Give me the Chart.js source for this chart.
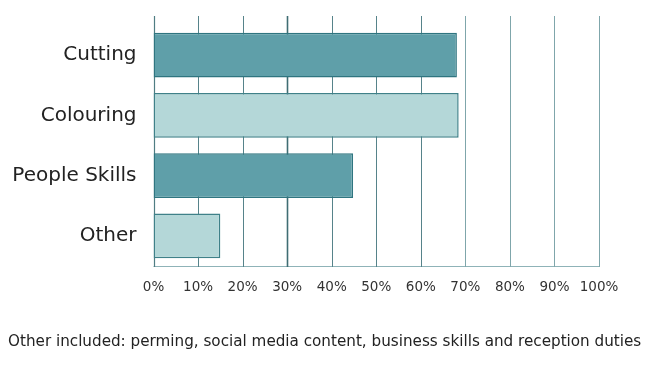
<!DOCTYPE html>
<html>
<head>
<meta charset="utf-8">
<script src="https://cdn.jsdelivr.net/npm/chart.js@4/dist/chart.umd.min.js"></script>
<style>
  html, body { margin: 0; padding: 0; background: #ffffff; }
  #wrap { position: relative; width: 650px; height: 376px; }
  #note { position: absolute; left: 8px; top: 332px; white-space: nowrap;
          font-family: 'DejaVu Sans', sans-serif; font-size: 15.2px; color: #222222; }
</style>
</head>
<body>
<div id="wrap"><canvas id="c" width="650" height="376"></canvas><div id="note"></div></div>
<script>
const categories = ['Cutting', 'Colouring', 'People Skills', 'Other'];
const shareValues = [68.1, 68.5, 44.8, 15.0];
const tickValues = [0, 10, 20, 30, 40, 50, 60, 70, 80, 90, 100];
const footnote = 'Other included: perming, social media content, business skills and reception duties';

document.getElementById('note').textContent = footnote;

const fillColours = ['#5f9fa9', '#b4d7d8', '#5f9fa9', '#b4d7d8'];
const borderColours = ['#2f7580', '#3f8189', '#2f7580', '#3f8189'];
const FONT = "'DejaVu Sans', sans-serif";

const gridPlugin = {
  id: 'gridExt',
  beforeDatasetsDraw(chart) {
    const ctx = chart.ctx;
    const x = chart.scales.x;
    const area = chart.chartArea;
    const top = area.top - 9;
    ctx.save();
    ctx.strokeStyle = '#8fb3b8';
    ctx.lineWidth = 1;
    ctx.beginPath();
    ctx.moveTo(x.getPixelForValue(0), area.bottom + 0.5);
    ctx.lineTo(x.getPixelForValue(100), area.bottom + 0.5);
    ctx.stroke();
    tickValues.forEach(v => {
      const px = Math.round(x.getPixelForValue(v)) + 0.5;
      if (v === 30) { ctx.strokeStyle = '#3f6d73'; ctx.lineWidth = 1.6; }
      else if (v === 0) { ctx.strokeStyle = '#4f7d83'; ctx.lineWidth = 1.2; }
      else if (v >= 70) { ctx.strokeStyle = '#7fa6ab'; ctx.lineWidth = 1; }
      else { ctx.strokeStyle = '#56838a'; ctx.lineWidth = 1; }
      ctx.beginPath();
      ctx.moveTo(px, top);
      ctx.lineTo(px, area.bottom + 1);
      ctx.stroke();
    });
    ctx.restore();
  }
};

new Chart(document.getElementById('c'), {
  type: 'bar',
  data: {
    labels: categories,
    datasets: [{
      data: shareValues,
      backgroundColor: fillColours,
      borderColor: borderColours,
      borderWidth: 1.5,
      borderSkipped: false,
      barPercentage: 0.74,
      categoryPercentage: 1.0
    }]
  },
  options: {
    indexAxis: 'y',
    responsive: false,
    animation: false,
    layout: { padding: { top: 25, right: 51, left: 0, bottom: 80 } },
    plugins: {
      legend: { display: false },
      tooltip: { enabled: false },
      title: { display: false }
    },
    scales: {
      x: {
        type: 'linear',
        min: 0,
        max: 100,
        afterBuildTicks(scale) { scale.ticks = tickValues.map(v => ({ value: v })); },
        afterFit(scale) { scale.height = 30; },
        grid: { display: false },
        border: { display: false },
        ticks: {
          color: '#333333',
          font: { family: FONT, size: 13.5 },
          padding: 5,
          maxRotation: 0,
          minRotation: 0,
          autoSkip: false,
          callback: v => v + '%'
        }
      },
      y: {
        type: 'category',
        afterFit(scale) { scale.width = 153.5; },
        grid: { display: false },
        border: { display: false },
        ticks: {
          color: '#222222',
          font: { family: FONT, size: 20 },
          padding: 9
        }
      }
    }
  },
  plugins: [gridPlugin]
});
</script>
</body>
</html>
